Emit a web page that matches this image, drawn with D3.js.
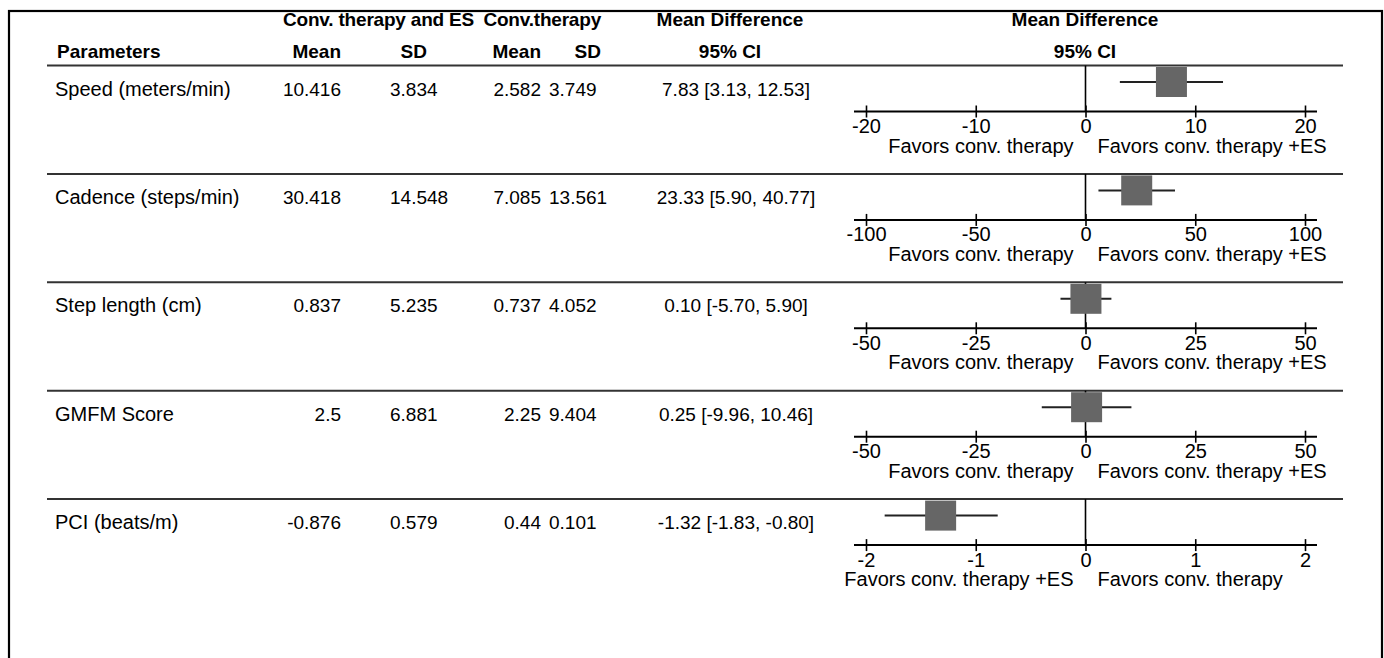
<!DOCTYPE html>
<html>
<head>
<meta charset="utf-8">
<script src="https://cdn.jsdelivr.net/npm/d3@7"></script>
<style>
  html, body { margin: 0; padding: 0; background: #fff; }
  svg text { font-family: "Liberation Sans", Arial, Helvetica, sans-serif; fill: #000; }
</style>
</head>
<body>
<svg id="chart" width="1384" height="658"></svg>
<script>
// ---- data ----
const parameters = ["Speed (meters/min)", "Cadence (steps/min)", "Step length (cm)", "GMFM Score", "PCI (beats/m)"];
const esMean = ["10.416", "30.418", "0.837", "2.5", "-0.876"];
const esSD = ["3.834", "14.548", "5.235", "6.881", "0.579"];
const ctMean = ["2.582", "7.085", "0.737", "2.25", "0.44"];
const ctSD = ["3.749", "13.561", "4.052", "9.404", "0.101"];
const meanDiff = [7.83, 23.33, 0.10, 0.25, -1.32];
const ciLow = [3.13, 5.90, -5.70, -9.96, -1.83];
const ciHigh = [12.53, 40.77, 5.90, 10.46, -0.80];
const axisTicks = [
  [-20, -10, 0, 10, 20],
  [-100, -50, 0, 50, 100],
  [-50, -25, 0, 25, 50],
  [-50, -25, 0, 25, 50],
  [-2, -1, 0, 1, 2]
];
const favorsLeft = ["Favors conv. therapy", "Favors conv. therapy", "Favors conv. therapy", "Favors conv. therapy", "Favors conv. therapy +ES"];
const favorsRight = ["Favors conv. therapy +ES", "Favors conv. therapy +ES", "Favors conv. therapy +ES", "Favors conv. therapy +ES", "Favors conv. therapy"];
const headerGroups = ["Conv. therapy and ES", "Conv.therapy", "Mean Difference", "Mean Difference"];
const headerSubs = ["Parameters", "Mean", "SD", "Mean", "SD", "95% CI", "95% CI"];

// ---- layout ----
const svg = d3.select("#chart");
const FS = 20;      // labels / axis text
const NFS = 19;     // numeric table cells
const HFS = 19;     // bold headers
const rows = d3.range(parameters.length);
const rowY = d3.scaleLinear().domain([0, parameters.length]).range([65.5, 607.5]);
const plotRange = [866, 1305];

// frame
svg.append("rect").attr("x", 9).attr("y", 11).attr("width", 1373).attr("height", 700)
  .attr("fill", "none").attr("stroke", "#000").attr("stroke-width", 2.2);

// header
const hdr = svg.append("g").attr("font-weight", "bold").attr("font-size", HFS);
hdr.append("text").attr("x", 474).attr("y", 26).attr("text-anchor", "end").attr("letter-spacing", -0.2).text(headerGroups[0]);
hdr.append("text").attr("x", 601).attr("y", 26).attr("text-anchor", "end").attr("letter-spacing", -0.2).text(headerGroups[1]);
hdr.append("text").attr("x", 730).attr("y", 26).attr("text-anchor", "middle").text(headerGroups[2]);
hdr.append("text").attr("x", 1085).attr("y", 26).attr("text-anchor", "middle").text(headerGroups[3]);
hdr.append("text").attr("x", 57).attr("y", 58).text(headerSubs[0]);
hdr.append("text").attr("x", 341).attr("y", 58).attr("text-anchor", "end").text(headerSubs[1]);
hdr.append("text").attr("x", 427).attr("y", 58).attr("text-anchor", "end").text(headerSubs[2]);
hdr.append("text").attr("x", 541).attr("y", 58).attr("text-anchor", "end").text(headerSubs[3]);
hdr.append("text").attr("x", 601).attr("y", 58).attr("text-anchor", "end").text(headerSubs[4]);
hdr.append("text").attr("x", 730).attr("y", 58).attr("text-anchor", "middle").text(headerSubs[5]);
hdr.append("text").attr("x", 1085).attr("y", 58).attr("text-anchor", "middle").text(headerSubs[6]);

// row rules (header line + separators)
svg.selectAll("line.rule").data(rows).join("line").attr("class", "rule")
  .attr("x1", 47).attr("x2", 1343)
  .attr("y1", d => rowY(d)).attr("y2", d => rowY(d))
  .attr("stroke", "#333").attr("stroke-width", 2);

rows.forEach(i => {
  const top = rowY(i);
  const g = svg.append("g").attr("font-size", FS);
  const base = top + 30;
  g.append("text").attr("x", 55).attr("y", base).text(parameters[i]);
  const num = g.append("g").attr("font-size", NFS);
  num.append("text").attr("x", 341).attr("y", base).attr("text-anchor", "end").text(esMean[i]);
  num.append("text").attr("x", 390).attr("y", base).text(esSD[i]);
  num.append("text").attr("x", 541).attr("y", base).attr("text-anchor", "end").text(ctMean[i]);
  num.append("text").attr("x", 549).attr("y", base).text(ctSD[i]);
  num.append("text").attr("x", 736).attr("y", base).attr("text-anchor", "middle")
    .text(`${meanDiff[i].toFixed(2)} [${ciLow[i].toFixed(2)}, ${ciHigh[i].toFixed(2)}]`);

  // forest panel
  const ticks = axisTicks[i];
  const x = d3.scaleLinear().domain([ticks[0], ticks[ticks.length - 1]]).range(plotRange);
  const axisY = top + 46;
  const midY = top + 16.5;

  // zero line
  g.append("line").attr("x1", x(0)).attr("x2", x(0)).attr("y1", top).attr("y2", axisY)
    .attr("stroke", "#000").attr("stroke-width", 1.6);

  // CI whisker
  g.append("line").attr("x1", x(ciLow[i])).attr("x2", x(ciHigh[i])).attr("y1", midY).attr("y2", midY)
    .attr("stroke", "#222").attr("stroke-width", 2);
  // box
  g.append("rect").attr("x", x(meanDiff[i]) - 15.5).attr("y", midY - 15).attr("width", 31).attr("height", 30)
    .attr("fill", "#666");

  // axis
  const axG = g.append("g").attr("transform", `translate(0,${axisY})`)
    .call(d3.axisBottom(x).tickValues(ticks).tickFormat(d => String(d)).tickSizeInner(6).tickSizeOuter(0).tickPadding(1));
  axG.select(".domain").remove();
  axG.selectAll(".tick line").attr("y1", -6).attr("y2", 6).attr("stroke", "#000").attr("stroke-width", 1.6);
  axG.selectAll(".tick text").attr("font-size", FS).attr("font-family", "Liberation Sans, Arial, sans-serif")
    .attr("fill", "#000").attr("dy", "0.73em");
  g.append("line").attr("x1", x.range()[0] - 12).attr("x2", x.range()[1] + 12)
    .attr("y1", axisY).attr("y2", axisY).attr("stroke", "#000").attr("stroke-width", 2);

  // favors labels
  g.append("text").attr("x", x(0) - 12).attr("y", axisY + 41).attr("text-anchor", "end").text(favorsLeft[i]);
  g.append("text").attr("x", x(0) + 12).attr("y", axisY + 41).text(favorsRight[i]);
});
</script>
</body>
</html>
